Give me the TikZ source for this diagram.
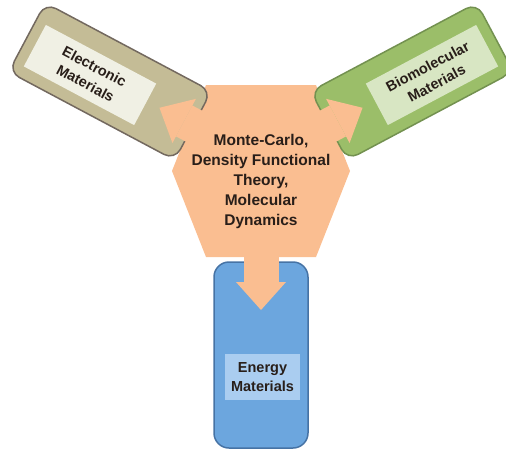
\documentclass[tikz,border=0pt]{standalone}
\usepackage{fontspec}
\setmainfont{Liberation Sans}
\usetikzlibrary{arrows.meta,calc}
\definecolor{orangeC}{RGB}{250,190,145}
\definecolor{tanFill}{RGB}{196,188,150}
\definecolor{tanLine}{RGB}{115,105,95}
\definecolor{tanLab}{RGB}{240,240,228}
\definecolor{grnFill}{RGB}{155,190,105}
\definecolor{grnLine}{RGB}{115,145,80}
\definecolor{grnLab}{RGB}{216,230,195}
\definecolor{bluFill}{RGB}{108,166,222}
\definecolor{bluLine}{RGB}{70,115,165}
\definecolor{bluLab}{RGB}{170,205,240}
\definecolor{txtC}{RGB}{40,30,25}
\begin{document}
\begin{tikzpicture}[x=1pt,y=1pt,
  outerbox/.style={rounded corners=12pt, line width=1.5pt, inner sep=0pt},
  labelbox/.style={inner sep=0pt, align=center, text=txtC,
     font=\fontsize{14.5}{19}\selectfont\bfseries},
  bigarrow/.style={draw=orangeC, line width=35pt,
     -{Triangle[length=28pt,width=50pt,line width=0pt]}},
  hextext/.style={align=center, text=txtC, inner sep=0pt,
     font=\fontsize{15.5}{20}\selectfont\bfseries}]
\useasboundingbox (0,0) rectangle (506,451);
\clip (0,0) rectangle (506,451);
% hexagon
\coordinate (hexc) at (261,280);
\fill[orangeC] (206,366) -- (316,366) -- (350,280) -- (316,194) -- (206,194) -- (172,280) -- cycle;
% boxes
\node[outerbox, fill=tanFill, draw=tanLine, minimum width=188pt, minimum height=78pt, rotate=-28] (ebox) at (110,369.5) {};
\node[labelbox, fill=tanLab, minimum width=125pt, minimum height=47pt, rotate=-28] (elab) at (90,376) {Electronic\\Materials};
\node[outerbox, fill=grnFill, draw=grnLine, minimum width=188pt, minimum height=78pt, rotate=28] (bbox) at (412,369.5) {};
\node[labelbox, fill=grnLab, minimum width=125pt, minimum height=47pt, rotate=28] (blab) at (432,376) {Biomolecular\\Materials};
\node[outerbox, rounded corners=15pt, fill=bluFill, draw=bluLine, minimum width=94pt, minimum height=186pt] (nbox) at (261,96) {};
\node[labelbox, fill=bluLab, minimum width=75pt, minimum height=46pt] (nlab) at (262.5,74) {Energy\\Materials};
% arrows
\coordinate (eS) at ($(ebox.center)+(-28:135)$);
\coordinate (eT) at ($(ebox.center)+(-28:56)$);
\coordinate (bS) at ($(bbox.center)+(208:135)$);
\coordinate (bT) at ($(bbox.center)+(208:56)$);
\coordinate (nS) at (261,235);
\coordinate (nT) at (261,141);
\draw[bigarrow] (eS) -- (eT);
\draw[bigarrow] (bS) -- (bT);
\draw[bigarrow] (nS) -- (nT);
% center text
\node[hextext] (hex) at (261,270) {Monte-Carlo,\\Density Functional\\Theory,\\Molecular\\Dynamics};
\end{tikzpicture}
\end{document}
